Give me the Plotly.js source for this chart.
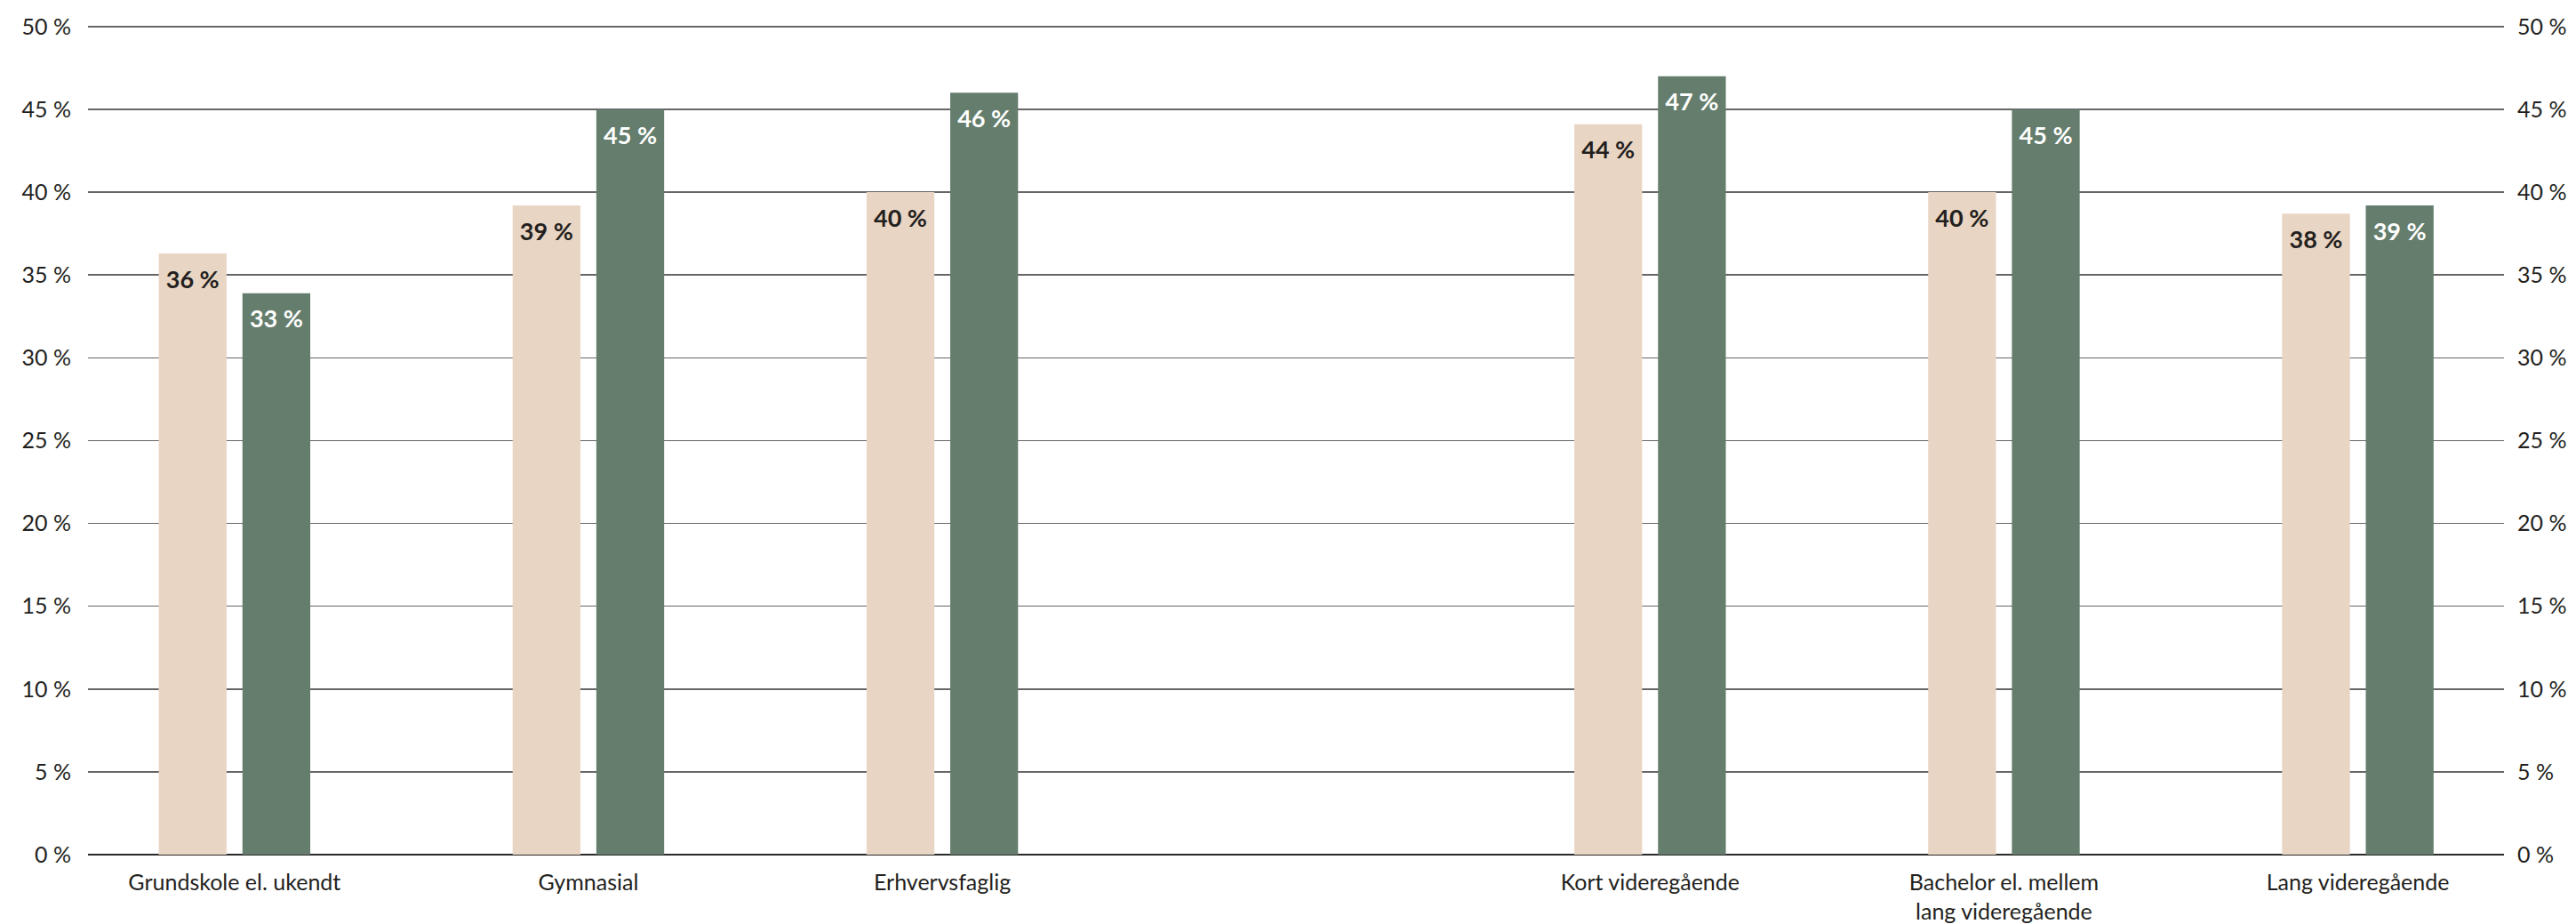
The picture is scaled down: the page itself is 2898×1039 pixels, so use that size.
<!DOCTYPE html>
<html>
<head>
<meta charset="utf-8">
<script src="https://cdn.plot.ly/plotly-3.0.1.min.js"></script>
<style>
  html, body { margin: 0; padding: 0; background: #ffffff; }
  #chart { width: 2898px; height: 1039px; }
</style>
</head>
<body>
<div id="chart"></div>
<script>
// Categories (one empty slot between the two groups of education levels)
const categories = [
  "Grundskole el. ukendt",
  "Gymnasial",
  "Erhvervsfaglig",
  " ",
  "Kort videregående",
  "Bachelor el. mellem<br>lang videregående",
  "Lang videregående"
];

// Series values (percent)
const seriesA = [36.3, 39.2, 40.0, null, 44.1, 40.0, 38.7];
const seriesB = [33.9, 45.0, 46.0, null, 47.0, 45.0, 39.2];

// Bar labels as printed in the picture
const labelsA = ["36 %", "39 %", "40 %", "", "44 %", "40 %", "38 %"];
const labelsB = ["33 %", "45 %", "46 %", "", "47 %", "45 %", "39 %"];

// Y ticks
const yTicks = [0, 5, 10, 15, 20, 25, 30, 35, 40, 45, 50];
const yTickLabels = ["0 %", "5 %", "10 %", "15 %", "20 %", "25 %", "30 %", "35 %", "40 %", "45 %", "50 %"];

const FONT = "Lato, 'Open Sans', 'DejaVu Sans', sans-serif";
const TEXT_DARK = "#231f20";
const BEIGE = "#e9d5c3";
const GREEN = "#647d6c";
const Y_RANGE = [0, 50.1];

function barTrace(values, color) {
  return {
    type: "bar",
    x: categories,
    y: values,
    marker: { color: color },
    hoverinfo: "none",
    offsetgroup: color,
    cliponaxis: false
  };
}

function labelTrace(values, labels, group, textColor) {
  return {
    type: "scatter",
    mode: "markers+text",
    x: categories,
    y: values,
    yaxis: "y2",
    text: labels,
    textposition: "bottom center",
    textfont: { family: FONT, size: 27, color: textColor, weight: 700 },
    marker: { size: 28, opacity: 0, color: "rgba(0,0,0,0)" },
    offsetgroup: group,
    hoverinfo: "none",
    cliponaxis: false,
    showlegend: false
  };
}

const traces = [
  barTrace(seriesA, BEIGE),
  barTrace(seriesB, GREEN),
  labelTrace(seriesA, labelsA, BEIGE, TEXT_DARK),
  labelTrace(seriesB, labelsB, GREEN, "#ffffff")
];

const layout = {
  width: 2898,
  height: 1039,
  margin: { l: 99, r: 81, t: 28, b: 78, pad: 0 },
  paper_bgcolor: "#ffffff",
  plot_bgcolor: "#ffffff",
  showlegend: false,
  barmode: "group",
  bargap: 0.527,
  bargroupgap: 0.19,
  scattermode: "group",
  scattergap: 0.527,
  font: { family: FONT, size: 25, color: TEXT_DARK },
  xaxis: {
    type: "category",
    categoryorder: "array",
    categoryarray: categories,
    range: [-0.414, 6.413],
    showgrid: false,
    zeroline: false,
    showline: false,
    ticks: "",
    ticklabelstandoff: 14,
    tickfont: { family: FONT, size: 25, color: TEXT_DARK },
    fixedrange: true
  },
  yaxis: {
    range: Y_RANGE,
    tickmode: "array",
    tickvals: yTicks,
    ticktext: yTickLabels,
    showgrid: true,
    gridcolor: "#666666",
    gridwidth: 1.5,
    zeroline: true,
    zerolinecolor: "#2a2a2a",
    zerolinewidth: 2,
    showline: false,
    ticks: "",
    ticklabelstandoff: 18,
    tickfont: { family: FONT, size: 25, color: TEXT_DARK },
    fixedrange: true
  },
  yaxis2: {
    overlaying: "y",
    side: "right",
    range: Y_RANGE,
    tickmode: "array",
    tickvals: yTicks,
    ticktext: yTickLabels,
    showgrid: false,
    zeroline: false,
    showline: false,
    ticks: "",
    ticklabelstandoff: 14,
    tickfont: { family: FONT, size: 25, color: TEXT_DARK },
    fixedrange: true
  }
};

Plotly.newPlot("chart", traces, layout, { staticPlot: true, displayModeBar: false });
</script>
</body>
</html>
